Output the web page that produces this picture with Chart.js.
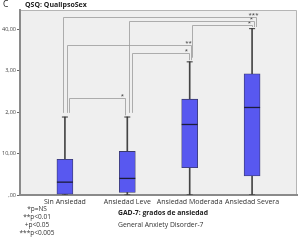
<!DOCTYPE html>
<html lang="es">
<head>
  <meta charset="UTF-8" />
  <title>QSQ: QualipsoSex</title>
  <script src="https://cdn.jsdelivr.net/npm/chart.js"></script>
  <style>
    * { margin: 0; padding: 0; }
    body { background: #fff; font-family: 'Open Sans', sans-serif; color: #222; }
    #wrap { position: relative; width: 300px; height: 240px; }
    .txt { position: absolute; white-space: nowrap; line-height: 1; }
  </style>
</head>
<body>
  <div id="wrap">
    <canvas id="box" width="300" height="240"></canvas>
    <div class="txt" style="left:3px;top:0px;font-size:8.5px;">C</div>
    <div class="txt" style="left:25px;top:1px;font-size:7px;font-weight:bold;">QSQ: QualipsoSex</div>
    <div class="txt" id="notes" style="left:12px;top:205px;width:50px;text-align:center;font-size:6.5px;line-height:8px;color:#333;">
      *p=NS<br>**p&lt;0.01<br>+p&lt;0.05<br>***p&lt;0.005
    </div>
    <div class="txt" style="left:118px;top:210px;font-size:6.8px;font-weight:bold;">GAD-7: grados de ansiedad</div>
    <div class="txt" style="left:118px;top:222px;font-size:6.8px;color:#333;">General Anxiety Disorder-7</div>
  </div>

  <script>
    const categories = ['Sin Ansiedad', 'Ansiedad Leve', 'Ansiedad Moderada', 'Ansiedad Severa'];
    const mins    = [0, 0, 0, 0];
    const q1s     = [0.2, 0.6, 6.6, 4.6];
    const medians = [3.1, 4.0, 17.0, 21.1];
    const q3s     = [8.6, 10.5, 23.1, 29.2];
    const maxs    = [18.8, 18.8, 32.1, 40.1];
    const tickValues = [0, 10, 20, 30, 40];
    const tickLabels = [',00', '10,00', '2,00', '3,00', '40,00'];
    // significance brackets: [from, to, level, label]
    const brackets = [
      [0, 1, 23.3, '*'],
      [1, 2, 34.2, '*'],
      [0, 2, 36.1, '**'],
      [2, 3, 41.1, '*'],
      [1, 3, 41.9, '*'],
      [0, 3, 42.9, '***']
    ];
    // pixel shift of each bracket's legs [left, right]
    const legShift = [[4, -2], [5, -1], [2, 1], [2, 0], [2, 2], [-2, 4]];

    const idx = categories.map((_, i) => i);

    const bgPlugin = {
      id: 'bg',
      beforeDraw(chart) {
        const { ctx, chartArea: a } = chart;
        ctx.save();
        ctx.fillStyle = '#efefef';
        ctx.fillRect(a.left, a.top, a.right - a.left, a.bottom - a.top);
        ctx.strokeStyle = '#b5b5b5';
        ctx.lineWidth = 1;
        ctx.beginPath();
        ctx.moveTo(a.left, a.top + 0.5);
        ctx.lineTo(a.right - 0.5, a.top + 0.5);
        ctx.lineTo(a.right - 0.5, a.bottom);
        ctx.stroke();
        ctx.restore();
      }
    };

    const bracketPlugin = {
      id: 'brackets',
      afterDatasetsDraw(chart) {
        const { ctx, scales: { x, y } } = chart;
        ctx.save();
        ctx.strokeStyle = '#9a9a9a';
        ctx.lineWidth = 0.8;
        ctx.fillStyle = '#333';
        ctx.font = '6px "Open Sans"';
        ctx.textAlign = 'center';
        ctx.textBaseline = 'bottom';
        brackets.forEach((b, i) => {
          const [from, to, level, label] = b;
          const xl = Math.round(x.getPixelForValue(from)) + legShift[i][0] + 0.5;
          const xr = Math.round(x.getPixelForValue(to)) + legShift[i][1] + 0.5;
          const yl = Math.round(y.getPixelForValue(level)) + 0.5;
          const yEndL = y.getPixelForValue(maxs[from] + 1);
          const yEndR = y.getPixelForValue(maxs[to] + 0.4);
          ctx.beginPath();
          ctx.moveTo(xl, yEndL);
          ctx.lineTo(xl, yl);
          ctx.lineTo(xr, yl);
          ctx.lineTo(xr, yEndR);
          ctx.stroke();
          ctx.fillText(label, xr - 3, yl + 1);
        });
        ctx.restore();
      }
    };

    new Chart(document.getElementById('box'), {
      type: 'bar',
      data: {
        datasets: [
          {
            type: 'scatter',
            data: idx.map(i => ({ x: i, y: medians[i] })),
            pointStyle: 'line',
            pointRadius: 8,
            pointBorderWidth: 1.3,
            borderColor: '#1d1d3a',
            order: 0
          },
          {
            type: 'scatter',
            data: idx.map(i => ({ x: i, y: maxs[i] })).concat(idx.map(i => ({ x: i, y: mins[i] }))),
            pointStyle: 'line',
            pointRadius: 3,
            pointBorderWidth: 1,
            borderColor: '#333',
            order: 1
          },
          {
            data: idx.map(i => ({ x: i, y: [q1s[i], q3s[i]] })),
            backgroundColor: '#5858f0',
            borderColor: '#3a3a6a',
            borderWidth: 0.8,
            borderSkipped: false,
            barThickness: 16,
            grouped: false,
            order: 2
          },
          {
            data: idx.map(i => ({ x: i, y: [mins[i], maxs[i]] })),
            backgroundColor: '#444',
            borderWidth: 0,
            barThickness: 1,
            grouped: false,
            order: 3
          }
        ]
      },
      options: {
        responsive: false,
        animation: false,
        layout: { autoPadding: false, padding: { top: 10, right: 3, left: 0, bottom: 0 } },
        plugins: { legend: { display: false }, tooltip: { enabled: false } },
        scales: {
          x: {
            type: 'linear',
            offset: false,
            min: -0.72,
            max: 3.72,
            afterBuildTicks: axis => { axis.ticks = idx.map(v => ({ value: v })); },
            afterFit: axis => {
              axis.height = 45;
              axis.paddingLeft = 0;
              axis.paddingRight = 0;
            },
            grid: { drawOnChartArea: false, drawTicks: false },
            border: { color: '#8a8a8a', width: 2 },
            ticks: {
              autoSkip: false,
              maxRotation: 0,
              padding: 3,
              color: '#333',
              font: { family: 'Open Sans', size: 7 },
              callback: v => categories[v]
            }
          },
          y: {
            min: 0,
            max: 44.6,
            afterBuildTicks: axis => { axis.ticks = tickValues.map(v => ({ value: v })); },
            afterFit: axis => {
              axis.width = 20;
              axis.paddingTop = 0;
              axis.paddingBottom = 0;
            },
            grid: { drawOnChartArea: false, tickLength: 3, color: '#666' },
            border: { color: '#8a8a8a', width: 2 },
            ticks: {
              padding: 1,
              color: '#444',
              font: { family: 'Open Sans', size: 5.5 },
              callback: (v, i) => tickLabels[i]
            }
          }
        }
      },
      plugins: [bgPlugin, bracketPlugin]
    });
  </script>
</body>
</html>
